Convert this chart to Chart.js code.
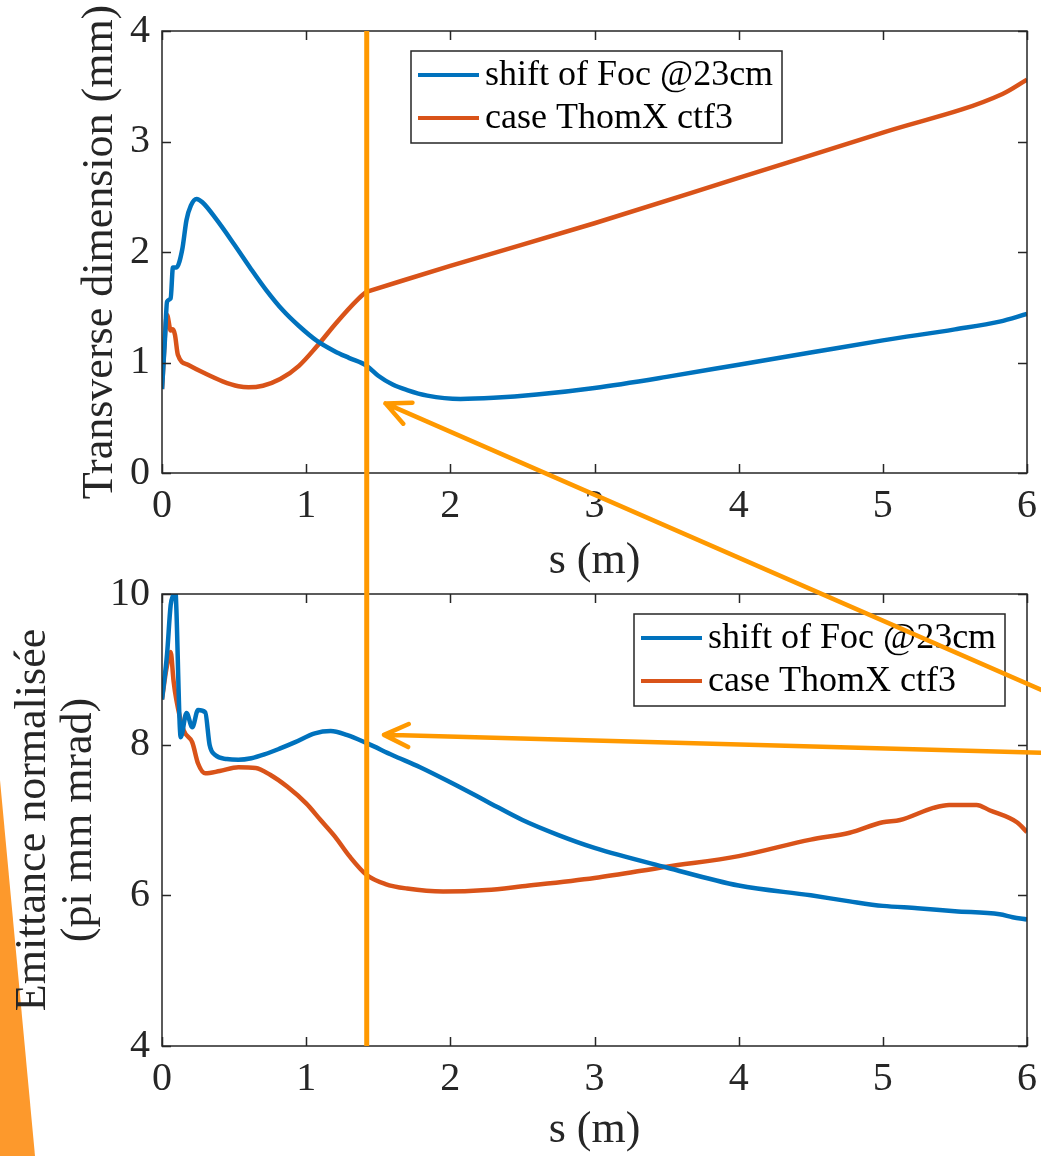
<!DOCTYPE html>
<html>
<head>
<meta charset="utf-8">
<title>Transverse dimension and emittance</title>
<script src="https://cdn.jsdelivr.net/npm/chart.js@4.4.1/dist/chart.umd.min.js"></script>
<style>
  html, body { margin: 0; padding: 0; background: #fff; }
  #page { position: relative; width: 1041px; height: 1156px; overflow: hidden; }
  #page canvas { position: absolute; left: 0; }
</style>
</head>
<body>
<div id="page">
  <canvas id="under" width="1041" height="1156" style="top:0"></canvas>
  <canvas id="topChart" width="1041" height="600" style="top:0"></canvas>
  <canvas id="bottomChart" width="1041" height="596" style="top:560px"></canvas>
  <canvas id="over" width="1041" height="1156" style="top:0"></canvas>
</div>
<script>
// ---- data ----
const seriesNames = ['shift of Foc @23cm', 'case ThomX ctf3'];

// top panel: transverse dimension (mm) vs s (m)
const topBlueS = [0, 0.02, 0.035, 0.06, 0.076, 0.1, 0.14, 0.17, 0.2, 0.24, 0.28, 0.38, 0.5, 0.61, 0.72, 0.84,
  0.95, 1.07, 1.2, 1.3, 1.42, 1.5, 1.6, 1.7, 1.84, 2.07, 2.3, 2.6, 3.0, 3.5, 4.0, 4.5, 5.0, 5.5, 5.81, 6.0];
const topBlueMm = [0.76, 1.2, 1.55, 1.58, 1.86, 1.86, 2.02, 2.29, 2.42, 2.48, 2.45, 2.29, 2.07, 1.86, 1.66, 1.47,
  1.33, 1.2, 1.1, 1.04, 0.97, 0.88, 0.8, 0.75, 0.7, 0.67, 0.68, 0.71, 0.77, 0.87, 0.98, 1.09, 1.2, 1.3, 1.37, 1.44];
const topOrangeS = [0, 0.035, 0.06, 0.075, 0.09, 0.11, 0.18, 0.3, 0.42, 0.53, 0.6, 0.7, 0.82, 0.95, 1.07, 1.21,
  1.35, 1.42, 1.44, 2.0, 3.0, 4.0, 5.0, 5.83, 6.0];
const topOrangeMm = [0.76, 1.43, 1.29, 1.3, 1.25, 1.07, 0.98, 0.9, 0.83, 0.785, 0.775, 0.79, 0.85, 0.97, 1.14, 1.36,
  1.56, 1.64, 1.648, 1.875, 2.26, 2.67, 3.08, 3.43, 3.56];

// bottom panel: normalised emittance (pi mm mrad) vs s (m)
const emitBlueS = [0, 0.035, 0.06, 0.08, 0.09, 0.13, 0.17, 0.21, 0.25, 0.3, 0.33, 0.37, 0.45, 0.53, 0.62, 0.71,
  0.82, 0.92, 1.06, 1.17, 1.28, 1.42, 1.6, 1.79, 2.0, 2.25, 2.5, 2.75, 3.0, 3.5, 4.0, 4.5, 4.77, 5.0, 5.24, 5.5,
  5.81, 5.9, 6.0];
const emitBlueVal = [8.6, 9.2, 9.85, 10.0, 10.1, 8.1, 8.42, 8.23, 8.46, 8.43, 8.0, 7.86, 7.81, 7.8, 7.82, 7.87,
  7.95, 8.03, 8.15, 8.18, 8.13, 8.02, 7.86, 7.7, 7.5, 7.25, 7.0, 6.8, 6.63, 6.37, 6.13, 6.0, 5.92, 5.86, 5.83, 5.79,
  5.75, 5.71, 5.68];
const emitOrangeS = [0, 0.03, 0.06, 0.08, 0.1, 0.15, 0.21, 0.25, 0.3, 0.4, 0.53, 0.65, 0.75, 0.87, 1.0, 1.1, 1.2,
  1.3, 1.42, 1.55, 1.7, 1.95, 2.25, 2.5, 3.0, 3.5, 4.0, 4.5, 4.77, 5.0, 5.12, 5.35, 5.46, 5.65, 5.74, 5.93, 6.0];
const emitOrangeVal = [8.6, 9.0, 9.23, 8.85, 8.59, 8.19, 8.03, 7.75, 7.62, 7.65, 7.7, 7.69, 7.6, 7.44, 7.22, 7.0,
  6.78, 6.52, 6.27, 6.15, 6.09, 6.05, 6.07, 6.12, 6.23, 6.38, 6.52, 6.74, 6.83, 6.97, 7.0, 7.16, 7.2, 7.2, 7.13,
  6.97, 6.84];

const xTicks = [0, 1, 2, 3, 4, 5, 6];
const topYTicks = [0, 1, 2, 3, 4];
const bottomYTicks = [4, 6, 8, 10];

// annotation: vertical marker and the two arrows pointing at it
const markerS = 1.42;
const topArrowTip = [1.55, 0.63];
const bottomArrowTip = [1.54, 8.13];

const BLUE = '#0072BD';
const RED = '#D95319';
const MARK = '#FF9900';
const AXIS = '#262626';
const SERIF = "'Liberation Serif', 'Times New Roman', serif";
const BOTTOM_TOP = 560; // css top of the lower canvas

const pts = (xs, ys) => xs.map((x, i) => ({ x, y: ys[i] }));

// keep tick labels from pushing the plot area around
const noScalePadding = s => {
  s.paddingTop = 0; s.paddingBottom = 0; s.paddingLeft = 0; s.paddingRight = 0;
};

// MATLAB-like box, inward ticks and a boxed legend inside the axes
const matlabBox = {
  id: 'matlabBox',
  afterDatasetsDraw(chart, args, opts) {
    const { ctx, chartArea: a, scales: { x, y } } = chart;
    ctx.save();
    ctx.strokeStyle = AXIS;
    ctx.lineWidth = 1.5;
    ctx.strokeRect(a.left, a.top, a.right - a.left, a.bottom - a.top);
    const len = 9;
    ctx.beginPath();
    x.ticks.forEach(t => {
      const px = Math.round(x.getPixelForValue(t.value)) + 0.5;
      ctx.moveTo(px, a.bottom); ctx.lineTo(px, a.bottom - len);
      ctx.moveTo(px, a.top); ctx.lineTo(px, a.top + len);
    });
    y.ticks.forEach(t => {
      const py = Math.round(y.getPixelForValue(t.value)) + 0.5;
      ctx.moveTo(a.left, py); ctx.lineTo(a.left + len, py);
      ctx.moveTo(a.right, py); ctx.lineTo(a.right - len, py);
    });
    ctx.stroke();

    // legend
    const L = opts.left, T = opts.top;
    ctx.fillStyle = '#fff';
    ctx.fillRect(L, T, 371, 92);
    ctx.strokeStyle = AXIS;
    ctx.lineWidth = 1.5;
    ctx.strokeRect(L, T, 371, 92);
    ctx.font = '36px ' + SERIF;
    ctx.textBaseline = 'middle';
    ctx.textAlign = 'left';
    chart.data.datasets.forEach((ds, i) => {
      const cy = T + 24 + i * 43;
      ctx.strokeStyle = ds.borderColor;
      ctx.lineWidth = 4;
      ctx.beginPath();
      ctx.moveTo(L + 7, cy); ctx.lineTo(L + 68, cy);
      ctx.stroke();
      ctx.fillStyle = '#000';
      ctx.fillText(ds.label, L + 74, cy + 1);
    });
    ctx.restore();
  }
};

function makeChart(id, cfg) {
  const tickFont = { family: SERIF, size: 40 };
  const titleFont = { family: SERIF, size: 44, lineHeight: 1.05 };
  return new Chart(document.getElementById(id), {
    type: 'line',
    data: {
      datasets: [
        { label: seriesNames[0], data: pts(cfg.blueS, cfg.blueV), borderColor: BLUE },
        { label: seriesNames[1], data: pts(cfg.orangeS, cfg.orangeV), borderColor: RED }
      ].map(d => Object.assign(d, {
        borderWidth: 4.5, pointRadius: 0, fill: false, cubicInterpolationMode: 'monotone'
      }))
    },
    plugins: [matlabBox],
    options: {
      responsive: false,
      animation: false,
      events: [],
      layout: { padding: { left: 0, top: cfg.padTop, right: 14, bottom: 0 } },
      plugins: {
        legend: { display: false },
        tooltip: { enabled: false },
        matlabBox: { left: cfg.legendLeft, top: cfg.legendTop }
      },
      scales: {
        x: {
          type: 'linear', min: 0, max: 6,
          afterBuildTicks: s => { s.ticks = xTicks.map(v => ({ value: v })); },
          afterFit: s => { s.height = cfg.xHeight; noScalePadding(s); },
          grid: { display: false, drawTicks: false },
          border: { display: false },
          ticks: { font: tickFont, color: AXIS, padding: 9, maxRotation: 0, autoSkip: false,
            callback: v => String(v) },
          title: { display: true, text: 's (m)', font: titleFont, color: AXIS,
            padding: { top: 0, bottom: cfg.xTitlePad } }
        },
        y: {
          type: 'linear', min: cfg.yMin, max: cfg.yMax,
          afterBuildTicks: s => { s.ticks = cfg.yTicks.map(v => ({ value: v })); },
          afterFit: s => { s.width = 162; noScalePadding(s); },
          grid: { display: false, drawTicks: false },
          border: { display: false },
          ticks: { font: tickFont, color: AXIS, padding: 12, autoSkip: false,
            callback: v => String(v) },
          title: { display: true, text: cfg.yTitle, font: titleFont, color: AXIS,
            padding: { top: cfg.yTitlePad, bottom: 0 } }
        }
      }
    }
  });
}

const topChart = makeChart('topChart', {
  blueS: topBlueS, blueV: topBlueMm, orangeS: topOrangeS, orangeV: topOrangeMm,
  yMin: 0, yMax: 4, yTicks: topYTicks, yTitle: 'Transverse dimension (mm)', yTitlePad: 77,
  padTop: 31, xHeight: 127, xTitlePad: 15, legendLeft: 411, legendTop: 51
});

const bottomChart = makeChart('bottomChart', {
  blueS: emitBlueS, blueV: emitBlueVal, orangeS: emitOrangeS, orangeV: emitOrangeVal,
  yMin: 4, yMax: 10, yTicks: bottomYTicks, yTitle: ['Emittance normalisée', '(pi mm mrad)'], yTitlePad: 10,
  padTop: 34, xHeight: 110, xTitlePad: 2, legendLeft: 634, legendTop: 54
});

// decorative orange wedge behind the lower y title
(function drawUnder() {
  const ctx = document.getElementById('under').getContext('2d');
  ctx.fillStyle = '#FD992C';
  ctx.beginPath();
  ctx.moveTo(0, 780);
  ctx.lineTo(35, 1156);
  ctx.lineTo(0, 1156);
  ctx.closePath();
  ctx.fill();
})();

// orange marker line and arrows spanning both panels
(function drawOver() {
  const ctx = document.getElementById('over').getContext('2d');
  const tx = topChart.scales.x, ty = topChart.scales.y;
  const bx = bottomChart.scales.x, by = bottomChart.scales.y;
  const mx = tx.getPixelForValue(markerS);
  ctx.strokeStyle = MARK;
  ctx.lineCap = 'butt';
  ctx.lineWidth = 5;
  ctx.beginPath();
  ctx.moveTo(mx, topChart.chartArea.top);
  ctx.lineTo(mx, BOTTOM_TOP + bottomChart.chartArea.bottom);
  ctx.stroke();

  function arrow(tipX, tipY, tailX, tailY) {
    const ang = Math.atan2(tailY - tipY, tailX - tipX);
    const head = 27, spread = 0.44;
    ctx.lineWidth = 4.5;
    ctx.lineCap = 'round';
    ctx.lineJoin = 'round';
    ctx.beginPath();
    ctx.moveTo(tailX, tailY);
    ctx.lineTo(tipX, tipY);
    ctx.moveTo(tipX + head * Math.cos(ang - spread), tipY + head * Math.sin(ang - spread));
    ctx.lineTo(tipX, tipY);
    ctx.lineTo(tipX + head * Math.cos(ang + spread), tipY + head * Math.sin(ang + spread));
    ctx.stroke();
  }
  arrow(tx.getPixelForValue(topArrowTip[0]), ty.getPixelForValue(topArrowTip[1]), 1046, 692);
  arrow(bx.getPixelForValue(bottomArrowTip[0]), BOTTOM_TOP + by.getPixelForValue(bottomArrowTip[1]), 1046, 753);
})();
</script>
</body>
</html>
